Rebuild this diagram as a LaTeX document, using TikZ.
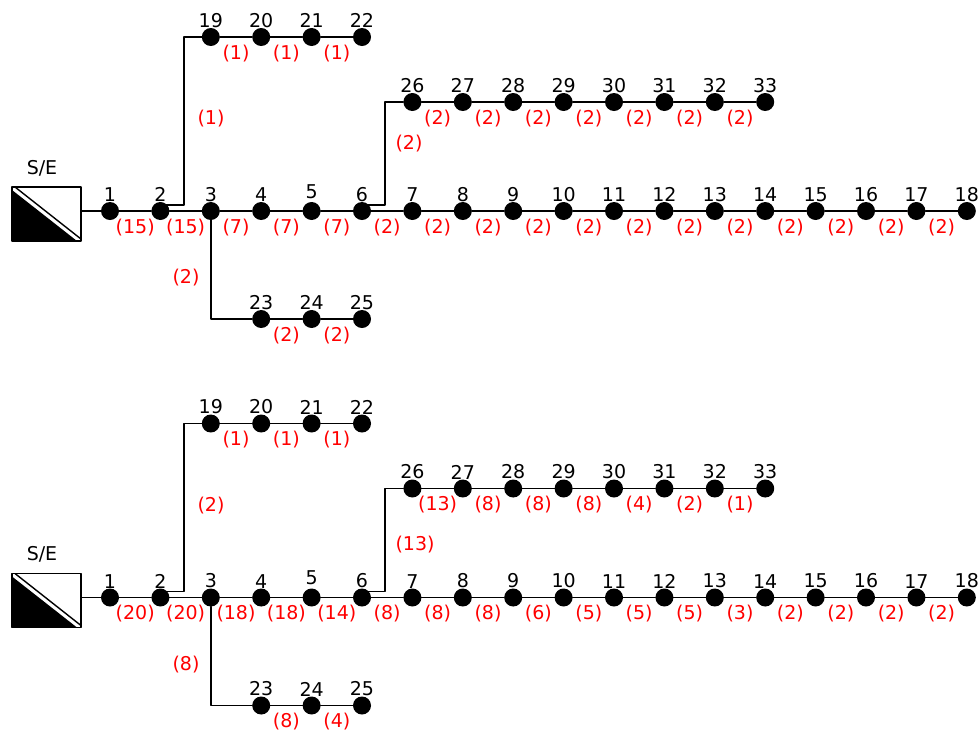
\documentclass[tikz,border=0pt]{standalone}
\usepackage{fontspec}
\setmainfont{DejaVu Sans}
\usetikzlibrary{positioning}
\begin{document}
\begin{tikzpicture}[x=1pt,y=-1pt,line join=round,line cap=round,
    font=\fontsize{19}{22}\selectfont,
    bus/.style={circle,fill,inner sep=0pt,minimum size=18pt,label distance=1pt},
    num/.style={inner sep=0pt},
    amp/.style={red,below=7pt,inner sep=0pt},
    wire/.style={line width=1.9pt}]
  \def\dx{50.4}
  % loads on each section, upper and lower case
  \def\tmain{15,15,7,7,7,2,2,2,2,2,2,2,2,2,2,2,2}
  \def\tup{1,1,1} \def\tmid{2,2,2,2,2,2,2} \def\tlow{2,2}
  \def\bmain{20,20,18,18,14,8,8,8,6,5,5,5,3,2,2,2,2}
  \def\bup{1,1,1} \def\bmid{13,8,8,8,4,2,1} \def\blow{8,4}
  \useasboundingbox (0,0) rectangle (980,729);
  \foreach \p/\yo/\ba/\bb/\bc/\yb in {t/211/1/2/2/67,b/597.5/2/13/8/52.5}{
    \edef\lmain{\csname\p main\endcsname}
    \edef\lup{\csname\p up\endcsname}
    \edef\lmid{\csname\p mid\endcsname}
    \edef\llow{\csname\p low\endcsname}
    % substation
    \node[draw,wire,minimum width=69pt,minimum height=54pt,inner sep=0pt,
      path picture={
        \fill ([yshift=-3pt]path picture bounding box.north west)
          -- (path picture bounding box.south west)
          -- ([xshift=-4pt]path picture bounding box.south east) -- cycle;
        \draw[line width=1.4pt] ([xshift=3pt]path picture bounding box.north west)
          -- ([yshift=2pt]path picture bounding box.south east);}] (\p se) at (46.5,\yo+3) {};
    \node[inner sep=0pt,above=10pt of \p se.north,xshift=-4.5pt] (\p name) {S/E};
    % main feeder
    \foreach \i in {1,...,18}
      \node[bus,label={[num,yshift={3*(\i==5)}]above:\i}] (\p\i) at ({110+(\i-1)*\dx},\yo) {};
    \draw[wire] (\p se.east |- \p1) -- (\p1);
    \foreach \l [count=\i] in \lmain {
      \pgfmathtruncatemacro\j{\i+1}
      \draw[wire] (\p\i) -- node[amp]{(\l)} (\p\j);
    }
    % laterals
    \foreach \i in {19,...,22}
      \node[bus,label={[num]above:\i}] (\p\i) at ({110+(\i-17)*\dx},\yo-174) {};
    \foreach \i in {26,...,33}
      \node[bus,label={[num]above:\i}] (\p\i) at ({110+(\i-20)*\dx},\yo-109) {};
    \foreach \i in {23,24,25}
      \node[bus,label={[num]above:\i}] (\p\i) at ({110+(\i-20)*\dx},\yo+108) {};
    \foreach \l [count=\i from 19] in \lup {
      \pgfmathtruncatemacro\j{\i+1}
      \draw[wire] (\p\i) -- node[amp]{(\l)} (\p\j);
    }
    \foreach \l [count=\i from 26] in \lmid {
      \pgfmathtruncatemacro\j{\i+1}
      \draw[wire] (\p\i) -- node[amp]{(\l)} (\p\j);
    }
    \foreach \l [count=\i from 23] in \llow {
      \pgfmathtruncatemacro\j{\i+1}
      \draw[wire] (\p\i) -- node[amp]{(\l)} (\p\j);
    }
    \draw[wire] ([yshift=6pt]\p2.center) -- ++(24,0) |- (\p19);
    \draw[wire] ([yshift=6pt]\p6.center) -- ++(23,0) |- (\p26);
    \draw[wire] (\p3) |- (\p23);
    \node[red] (\p la) at (211,\yo-92) {(\ba)};
    \node[red,anchor=west] (\p lb) at (392,\yo-\yb) {(\bb)};
    \node[red] (\p lc) at (186,\yo+67) {(\bc)};
  }
\end{tikzpicture}
\end{document}
